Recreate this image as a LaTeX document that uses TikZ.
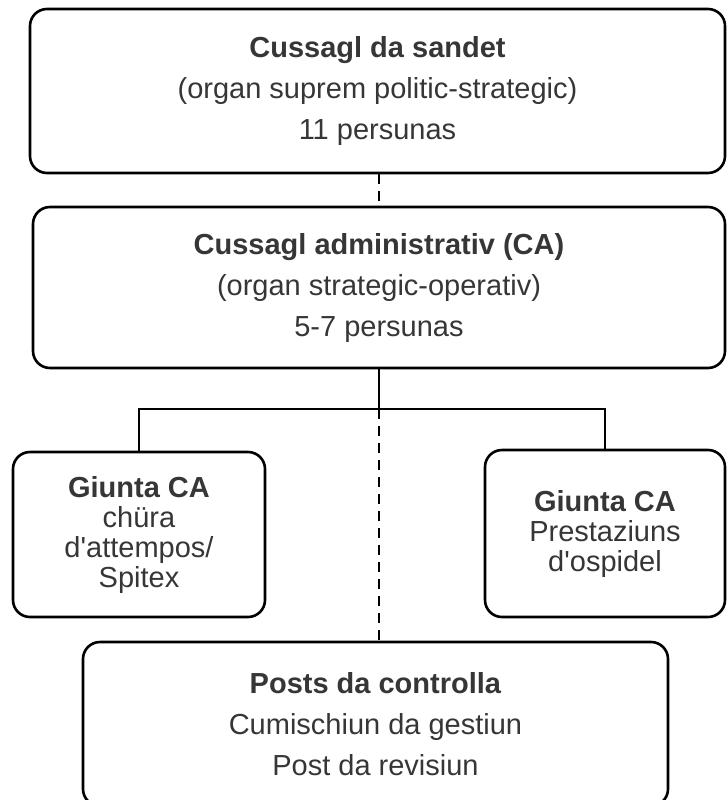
\documentclass[tikz,border=0pt]{standalone}
\usepackage{fontspec}
\setmainfont{Liberation Sans}
\usetikzlibrary{calc,positioning}
\definecolor{txtgray}{HTML}{363636}
\tikzstyle{organ}=[rectangle,rounded corners=17pt,draw=black,line width=2.6pt,
  text=txtgray,align=center,inner sep=0pt,font=\fontsize{29}{41}\selectfont]
\tikzstyle{giunta}=[organ,font=\fontsize{29}{30}\selectfont]
\tikzstyle{link}=[draw=black,line width=2.6pt]
\tikzstyle{loose}=[link,dash pattern=on 10pt off 7pt]

\begin{document}
\begin{tikzpicture}[x=1pt,y=-1pt]
    \useasboundingbox (0,0) rectangle (726,800);

    \node[organ,minimum width=695pt,minimum height=164pt] (sandet) at (377.5,91)
      {\textbf{Cussagl da sandet}\\(organ suprem politic-strategic)\\11 persunas};
    \node[organ,minimum width=692pt,minimum height=161pt] (ca) at (379,287.5)
      {\textbf{Cussagl administrativ (CA)}\\(organ strategic-operativ)\\5-7 persunas};

    \node[giunta,minimum width=252pt,minimum height=165pt] (attempos) at (139,534.5)
      {\textbf{Giunta CA}\\chüra\\d\textquotesingle attempos/\\Spitex};
    \node[giunta,minimum width=240pt,minimum height=167pt] (ospidel) at (605,533.5)
      {\textbf{Giunta CA}\\Prestaziuns\\d\textquotesingle ospidel};

    \node[organ,minimum width=585pt,minimum height=164pt] (controlla) at (375.5,724)
      {\textbf{Posts da controlla}\\Cumischiun da gestiun\\Post da revisiun};

    \coordinate (fork) at (ca.south |- 0,409);

    \draw[loose] (sandet.south -| ca.south) -- (ca.north);
    \draw[link] (ca.south) -- (fork);
    \draw[link] (attempos.north) |- (fork) -| (ospidel.north);
    \draw[loose] (fork) -- (fork |- controlla.north);
\end{tikzpicture}
\end{document}
